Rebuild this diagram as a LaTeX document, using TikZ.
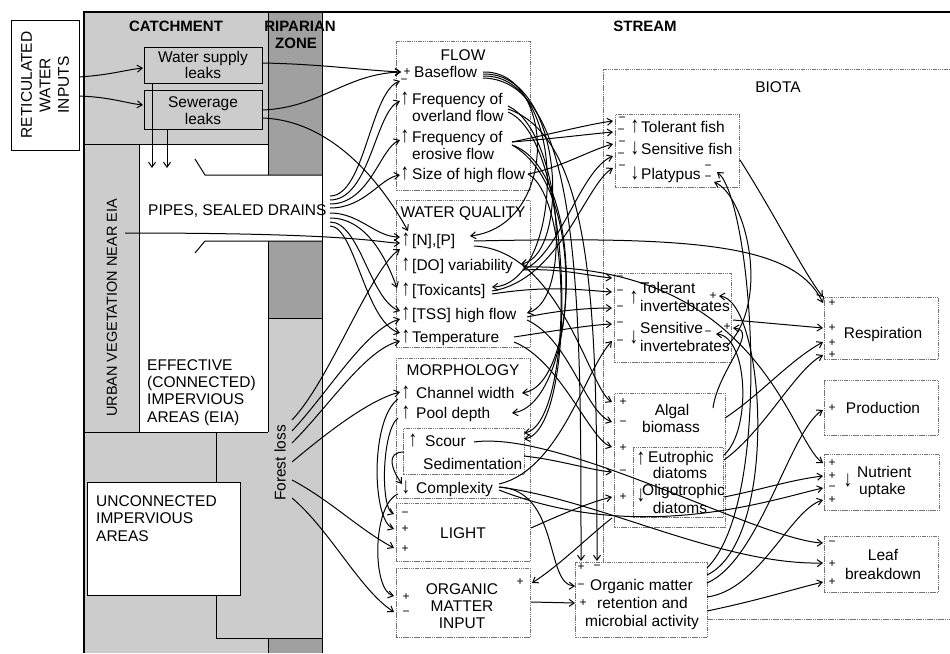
\documentclass[tikz,border=0pt]{standalone}
\usepackage{fontspec}
\setmainfont{Liberation Sans}
\usetikzlibrary{arrows.meta}
\definecolor{gc}{RGB}{204,204,204}
\definecolor{gd}{RGB}{160,160,160}
\newcommand{\UA}{\scalebox{1.1}[1.45]{↑}}
\newcommand{\DA}{\scalebox{1.1}[1.45]{↓}}
\begin{document}
\begin{tikzpicture}[x=1pt,y=-1pt, font=\fontsize{15.5}{17.5}\selectfont,
 arr/.style={-{Straight Barb[length=5pt,width=7pt]}, line width=1pt},
 ln/.style={line width=1pt},
 dbox/.style={draw=black!55, line width=0.9pt, dash pattern=on 1.5pt off 0.7pt, anchor=north west, inner sep=0pt},
 sbox/.style={draw=black, line width=1.1pt, anchor=north west, inner sep=0pt},
 lbl/.style={inner sep=0pt, anchor=base west},
 lblc/.style={inner sep=0pt, anchor=base},
 bld/.style={inner sep=0pt, anchor=base, font=\fontsize{15}{17}\selectfont\bfseries},
 sign/.style={inner sep=0pt, font=\fontsize{12}{12}\selectfont},
 ]
\useasboundingbox (0,0) rectangle (950,653);
% ---------- backgrounds
\fill[gc] (84,12) rectangle (268,144);
\fill[gc] (84,144) rectangle (139,432);
\fill[gc] (84,432) rectangle (216,653);
\fill[gc] (216,432) rectangle (322,638);
\fill[gc] (268,318) rectangle (322,432);
\fill[gc] (216,638) rectangle (268,653);
\fill[gd] (268,12) rectangle (322,175);
\fill[gd] (268,241) rectangle (322,318);
\fill[gd] (268,638) rectangle (322,653);
\draw[line width=1.2pt] (84,653) -- (84,12) -- (950,12);
\draw[ln] (84,144) -- (268,144);
\draw[ln] (268,12) -- (268,175);
\draw[ln] (322,12) -- (322,653);
\draw[ln] (195,159) -- (205,175) -- (322,175);
\draw[ln] (195,253) -- (205,241) -- (322,241);
\draw[ln] (268,241) -- (268,432);
\draw[ln] (268,318) -- (322,318);
\draw[ln] (139,144) -- (139,432);
\draw[ln] (84,432) -- (268,432);
\draw[ln] (216,432) -- (216,482);
\draw[ln] (216,595) -- (216,638) -- (322,638);
\draw[ln] (268,638) -- (268,653);
% ---------- left boxes
\node[sbox, fill=white, minimum width=68pt, minimum height=130pt] (retbox) at (11,20) {};
\node[sbox, fill=gc, minimum width=118pt, minimum height=36pt] (wslbox) at (144,47) {};
\node[sbox, fill=gc, minimum width=118pt, minimum height=39pt] (sewbox) at (144,90) {};
\node[sbox, fill=white, minimum width=153pt, minimum height=113pt] (uiabox) at (87,482) {};
% ---------- stream boxes
\draw[draw=black!55, line width=0.9pt, dash pattern=on 1.5pt off 0.7pt] (950,69) -- (603,69) -- (603,562);
\draw[draw=black!55, line width=0.9pt, dash pattern=on 1.5pt off 0.7pt] (707,619) -- (950,619);
\node[dbox, minimum width=134pt, minimum height=149pt] (flowbox) at (396,41) {};
\node[dbox, minimum width=134pt, minimum height=147pt] (wqbox) at (396,200) {};
\node[dbox, minimum width=134pt, minimum height=140pt] (morbox) at (396,358) {};
\node[dbox, minimum width=121pt, minimum height=46pt] (scbox) at (403,428) {};
\node[dbox, minimum width=134pt, minimum height=58pt] (lightbox) at (396,503) {};
\node[dbox, minimum width=134pt, minimum height=69pt] (omibox) at (396,568) {};
\node[dbox, fill=white, minimum width=132pt, minimum height=75pt] (omrbox) at (575,562) {};
\node[dbox, minimum width=124pt, minimum height=73pt] (fishbox) at (615,114) {};
\node[dbox, minimum width=117pt, minimum height=89pt] (invbox) at (614,273) {};
\node[dbox, minimum width=111pt, minimum height=134pt] (algbox) at (614,393) {};
\node[dbox, minimum width=90pt, minimum height=70pt] (diabox) at (633,447) {};
\node[dbox, minimum width=114pt, minimum height=62pt] (respbox) at (824,297) {};
\node[dbox, minimum width=114pt, minimum height=55pt] (prodbox) at (824,380) {};
\node[dbox, minimum width=115pt, minimum height=56pt] (nutbox) at (824,454) {};
\node[dbox, minimum width=114pt, minimum height=56pt] (leafbox) at (824,536) {};
% ---------- ports
\coordinate (retA) at (79,77); \coordinate (retB) at (79,96);
\coordinate (wslIn) at (143,68); \coordinate (sewIn) at (143,105);
\coordinate (wslOut) at (262,63); \coordinate (sewOut1) at (262,110); \coordinate (sewOut2) at (262,118);
\coordinate (wslBot) at (152,83); \coordinate (wslDn) at (152,168);
\coordinate (sewBot) at (167,129); \coordinate (sewDn) at (167,168);
\coordinate (p1) at (330,196); \coordinate (p2) at (330,200); \coordinate (p3) at (330,204);
\coordinate (p4) at (330,208); \coordinate (p5) at (330,213); \coordinate (p6) at (330,218);
\coordinate (p7) at (330,222); \coordinate (p8) at (330,226);
\coordinate (uvS) at (125,233);
\coordinate (fl1) at (292,420); \coordinate (fl2) at (292,431); \coordinate (fl3) at (292,443);
\coordinate (fl4) at (292,462); \coordinate (fl5) at (292,480); \coordinate (fl6) at (292,498);
\coordinate (bfIn1) at (401,72); \coordinate (bfIn2) at (400,81);
\coordinate (ovIn) at (400,101); \coordinate (erIn) at (400,140); \coordinate (szIn) at (400,175);
\coordinate (npIn1) at (408,231); \coordinate (npIn2) at (400,237); \coordinate (npIn3) at (400,243); \coordinate (npIn4) at (400,249);
\coordinate (toxIn) at (397,288); \coordinate (tssIn1) at (400,311); \coordinate (tssIn2) at (400,319);
\coordinate (tempIn1) at (400,333); \coordinate (tempIn2) at (400,341);
\coordinate (cwIn) at (400,392); \coordinate (scL) at (404,452); \coordinate (cxIn) at (402,484);
\coordinate (cwL) at (398,399); \coordinate (pdL) at (398,418); \coordinate (cxL) at (398,494);
\coordinate (lIn1) at (394,514); \coordinate (lIn2) at (394,529); \coordinate (lIn3) at (394,548);
\coordinate (omIn1) at (394,596); \coordinate (omIn2) at (394,612);
\coordinate (bfO1) at (483,72); \coordinate (bfO2) at (483,74); \coordinate (bfO3) at (483,76); \coordinate (bfO4) at (483,78);
\coordinate (ovO1) at (508,106); \coordinate (ovO2) at (508,109); \coordinate (ovO3) at (508,112);
\coordinate (erO1) at (512,142); \coordinate (erO2) at (512,145);
\coordinate (szO) at (528,174);
\coordinate (npR) at (470,236); \coordinate (npOut) at (474,241); \coordinate (npOut2) at (474,246);
\coordinate (doR) at (521,264); \coordinate (doOut) at (523,267); \coordinate (doOut2) at (523,270);
\coordinate (toxR) at (492,287); \coordinate (toxR2) at (492,291); \coordinate (toxR3) at (492,294);
\coordinate (tssR) at (527,313); \coordinate (tssR2) at (527,317); \coordinate (tssR3) at (527,320);
\coordinate (tempR) at (514,337); \coordinate (tempR2) at (514,342);
\coordinate (cwR) at (522,393); \coordinate (pdR) at (512,413);
\coordinate (scR1) at (524,433); \coordinate (scR2) at (524,439); \coordinate (scOut) at (474,442);
\coordinate (sedR) at (524,456);
\coordinate (cxR) at (499,487); \coordinate (cxR2) at (499,490); \coordinate (cxR3) at (499,484);
\coordinate (lR) at (531,528); \coordinate (omR) at (532,583); \coordinate (omOut) at (531,602);
\coordinate (omrT1) at (581,561); \coordinate (omrT2) at (597,561);
\coordinate (omrL1) at (575,586); \coordinate (omrL2) at (575,603);
\coordinate (omrR1) at (707,568); \coordinate (omrR5) at (707,575); \coordinate (omrR2) at (707,583);
\coordinate (omrR3) at (707,597); \coordinate (omrR4) at (707,611);
\coordinate (ftA) at (613,121); \coordinate (ftB) at (613,132); \coordinate (fsA) at (613,144);
\coordinate (fsB) at (613,156); \coordinate (fpA) at (613,168);
\coordinate (platA) at (717,172); \coordinate (platB) at (714,182); \coordinate (fsR) at (740,160);
\coordinate (iA) at (612,278); \coordinate (iB) at (612,292); \coordinate (iC) at (612,308);
\coordinate (iD) at (612,324); \coordinate (iE) at (612,341);
\coordinate (tiP) at (719,296); \coordinate (siP) at (733,328); \coordinate (siM) at (716,334);
\coordinate (siR) at (733,320); \coordinate (siOut2) at (727,346);
\coordinate (aA) at (612,402); \coordinate (aB) at (612,422); \coordinate (aC) at (612,447);
\coordinate (aD) at (612,472); \coordinate (aE) at (612,497); \coordinate (algBL) at (612,518);
\coordinate (aR) at (713,408); \coordinate (aR2) at (725,418);
\coordinate (eR) at (724,460); \coordinate (eR2) at (724,455); \coordinate (oR) at (724,497);
\coordinate (rA1) at (823,297); \coordinate (rA2) at (823,303); \coordinate (rB) at (823,328);
\coordinate (rC) at (823,342); \coordinate (rD) at (823,355);
\coordinate (pA) at (823,410);
\coordinate (nA) at (823,463); \coordinate (nB) at (823,476); \coordinate (nC) at (823,488); \coordinate (nD) at (823,500);
\coordinate (lfA) at (823,543); \coordinate (lfB) at (823,563); \coordinate (lfC) at (823,582);
% ---------- connectors: left
\draw[arr] (retA) .. controls (110,75) and (125,70) .. (wslIn);
\draw[arr] (retB) .. controls (110,97) and (125,103) .. (sewIn);
\draw[arr] (wslOut) .. controls (320,64) and (360,70) .. (bfIn1);
\draw[arr] (sewOut1) .. controls (320,108) and (345,74) .. (bfIn1);
\draw[arr] (sewOut2) .. controls (330,120) and (380,180) .. (npIn1);
\draw[arr] (wslBot) -- (wslDn);
\draw[arr] (sewBot) -- (sewDn);
\draw[arr] (p1) .. controls (365,196) and (370,92) .. (bfIn2);
\draw[arr] (p2) .. controls (370,200) and (375,112) .. (ovIn);
\draw[arr] (p3) .. controls (370,204) and (380,148) .. (erIn);
\draw[arr] (p4) .. controls (365,208) and (380,178) .. (szIn);
\draw[arr] (p5) .. controls (360,213) and (375,237) .. (npIn2);
\draw[arr] (uvS) .. controls (360,233) and (380,243) .. (npIn3);
\draw[arr] (p6) .. controls (365,218) and (385,255) .. (toxIn);
\draw[arr] (p7) .. controls (360,222) and (370,300) .. (tssIn1);
\draw[arr] (p8) .. controls (355,226) and (365,322) .. (tempIn1);
\draw[arr] (fl1) .. controls (330,380) and (370,270) .. (npIn4);
\draw[arr] (fl2) .. controls (330,390) and (365,330) .. (tssIn2);
\draw[arr] (fl3) .. controls (330,405) and (365,350) .. (tempIn2);
\draw[arr] (fl4) .. controls (330,430) and (370,400) .. (cwIn);
\draw[arr] (fl5) .. controls (330,500) and (360,530) .. (lIn3);
\draw[arr] (fl6) .. controls (330,530) and (360,590) .. (omIn2);
\draw[arr] (scL) .. controls (385,452) and (392,470) .. (cxIn);
\draw[arr] (cwL) .. controls (370,420) and (372,520) .. (lIn2);
\draw[arr] (pdL) .. controls (382,430) and (380,508) .. (lIn1);
\draw[arr] (cxL) .. controls (372,505) and (372,590) .. (omIn1);
% ---------- connectors: flow and water quality outputs
\draw[arr] (bfO1) .. controls (555,70) and (560,225) .. (npR);
\draw[arr] (bfO2) .. controls (565,72) and (570,255) .. (doR);
\draw[arr] (bfO3) .. controls (572,74) and (562,285) .. (toxR);
\draw[arr] (bfO4) .. controls (581,80) and (581,300) .. (omrT1);
\draw[arr] (ovO1) .. controls (560,130) and (575,300) .. (tssR);
\draw[arr] (ovO2) .. controls (597,140) and (597,330) .. (omrT2);
\draw[arr] (ovO3) .. controls (575,140) and (578,430) .. (scR2);
\draw[arr] (erO1) .. controls (560,132) and (590,124) .. (ftA);
\draw[arr] (erO1) .. controls (560,138) and (590,134) .. (ftB);
\draw[arr] (szO) .. controls (560,168) and (590,150) .. (fsA);
\draw[arr] (erO2) .. controls (585,170) and (580,385) .. (cwR);
\draw[arr] (erO2) .. controls (592,190) and (575,405) .. (pdR);
\draw[arr] (szO) .. controls (575,200) and (570,425) .. (scR1);
\draw[arr] (doOut2) .. controls (560,255) and (580,170) .. (fsB);
\draw[arr] (toxR2) .. controls (560,280) and (585,185) .. (fpA);
\draw[arr] (doOut2) .. controls (560,268) and (590,276) .. (iA);
\draw[arr] (toxR3) .. controls (550,285) and (580,290) .. (iB);
\draw[arr] (tssR2) .. controls (560,310) and (590,308) .. (iC);
\draw[arr] (tempR) .. controls (560,330) and (590,325) .. (iD);
\draw[arr] (cxR3) .. controls (560,470) and (585,370) .. (iE);
\draw[arr] (npOut2) .. controls (560,250) and (590,390) .. (aA);
\draw[arr] (tssR3) .. controls (570,340) and (585,412) .. (aB);
\draw[arr] (tempR2) .. controls (560,360) and (590,440) .. (aC);
\draw[arr] (sedR) .. controls (560,460) and (590,470) .. (aD);
\draw[arr] (lR) .. controls (560,515) and (590,502) .. (aE);
\draw[arr] (algBL) .. controls (590,535) and (560,565) .. (omR);
\draw[arr] (cxR) .. controls (560,490) and (545,585) .. (omrL1);
\draw[arr] (omOut) -- (omrL2);
% ---------- connectors: long and biota
\draw[arr] (npOut) .. controls (700,236) and (795,245) .. (rA2);
\draw[arr] (fsR) .. controls (775,215) and (805,275) .. (rA1);
\draw[arr] (siR) -- (rB);
\draw[arr] (aR2) .. controls (760,395) and (790,360) .. (rC);
\draw[arr] (eR) .. controls (765,430) and (795,370) .. (rD);
\draw[arr] (omrR2) .. controls (760,560) and (790,430) .. (pA);
\draw[arr] (doOut) .. controls (760,262) and (790,440) .. (nA);
\draw[arr] (oR) .. controls (760,490) and (790,480) .. (nB);
\draw[arr] (cxR2) .. controls (640,545) and (770,500) .. (nC);
\draw[arr] (omrR3) .. controls (760,590) and (790,510) .. (nD);
\draw[arr] (scOut) .. controls (560,430) and (760,540) .. (lfA);
\draw[arr] (cxR) .. controls (600,500) and (720,565) .. (lfB);
\draw[arr] (omrR4) .. controls (760,600) and (790,590) .. (lfC);
\draw[arr] (aR) .. controls (718,370) and (760,330) .. (siP);
\draw[arr] (omrR1) .. controls (775,500) and (752,200) .. (platA);
\draw[arr] (omrR5) .. controls (780,540) and (765,300) .. (tiP);
\draw[arr] (siOut2) .. controls (772,300) and (745,195) .. (platB);
\draw[arr] (eR2) .. controls (752,430) and (748,336) .. (siM);
% ---------- left texts
\node[rotate=90, align=center, inner sep=0pt, font=\fontsize{15.5}{18.5}\selectfont] (ret) at (45,85) {RETICULATED\\WATER\\INPUTS};
\node[bld] (catch) at (176,31) {CATCHMENT};
\node[bld] (rip1) at (300,31) {RIPARIAN};
\node[bld] (rip2) at (296,48) {ZONE};
\node[bld] (stream) at (645,31) {STREAM};
\node[lblc] (wsl1) at (203,62) {Water supply};
\node[lblc] (wsl2) at (203,78) {leaks};
\node[lblc] (sew1) at (203,107) {Sewerage};
\node[lblc] (sew2) at (203,124) {leaks};
\node[rotate=90, inner sep=0pt, font=\fontsize{14.5}{16}\selectfont] (uv) at (112,308) {URBAN VEGETATION NEAR EIA};
\node[rotate=90, inner sep=0pt] (forest) at (280,463) {Forest loss};
\node[lbl] (pipes) at (148,215) {PIPES, SEALED DRAINS};
\node[lbl] (eia1) at (147,370) {EFFECTIVE};
\node[lbl] (eia2) at (147,387) {(CONNECTED)};
\node[lbl] (eia3) at (147,404) {IMPERVIOUS};
\node[lbl] (eia4) at (147,422) {AREAS (EIA)};
\node[lbl] (uia1) at (96,506) {UNCONNECTED};
\node[lbl] (uia2) at (96,523) {IMPERVIOUS};
\node[lbl] (uia3) at (96,541) {AREAS};
% ---------- stream texts
\node[lblc] (flowt) at (463,60) {FLOW};
\node[lbl] (bf) at (414,77.5) {Baseflow};
\node[lblc] (ua1) at (405,104.5) {\UA};
\node[lbl] (ov1) at (412,104.5) {Frequency of};
\node[lbl] (ov2) at (412,121.5) {overland flow};
\node[lblc] (ua2) at (405,142.5) {\UA};
\node[lbl] (er1) at (412,142.5) {Frequency of};
\node[lbl] (er2) at (412,159.5) {erosive flow};
\node[lblc] (ua3) at (405,179.5) {\UA};
\node[lbl] (sz) at (412,179.5) {Size of high flow};
\node[lblc] (wqt) at (463,217) {WATER QUALITY};
\node[lblc] (ua4) at (406,245) {\UA};
\node[lbl] (np) at (412,245) {[N],[P]};
\node[lblc] (ua5) at (406,270) {\UA};
\node[lbl] (do) at (412,270) {[DO] variability};
\node[lblc] (ua6) at (406,295) {\UA};
\node[lbl] (tox) at (412,295) {[Toxicants]};
\node[lblc] (ua7) at (406,319) {\UA};
\node[lbl] (tss) at (412,319) {[TSS] high flow};
\node[lblc] (ua8) at (406,342) {\UA};
\node[lbl] (temp) at (412,342) {Temperature};
\node[lblc] (mort) at (463,375) {MORPHOLOGY};
\node[lblc] (ua9) at (406,398) {\UA};
\node[lbl] (cw) at (416,398) {Channel width};
\node[lblc] (ua10) at (406,418) {\UA};
\node[lbl] (pd) at (416,418) {Pool depth};
\node[lblc] (ua11) at (413,446) {\UA};
\node[lbl] (scour) at (425,446) {Scour};
\node[lbl] (sed) at (423,469) {Sedimentation};
\node[lblc] (da1) at (406,493) {\DA};
\node[lbl] (cx) at (416,493) {Complexity};
\node[lblc] (light) at (463,538) {LIGHT};
\node[lblc] (omi1) at (462,594) {ORGANIC};
\node[lblc] (omi2) at (462,611) {MATTER};
\node[lblc] (omi3) at (462,628) {INPUT};
\node[lbl] (omr1) at (590,590) {Organic matter};
\node[lbl] (omr2) at (597,608) {retention and};
\node[lbl] (omr3) at (585,626) {microbial activity};
\node[lblc] (biot) at (778,92) {BIOTA};
\node[lblc] (ua12) at (635,132) {\UA};
\node[lbl] (tf) at (641,132) {Tolerant fish};
\node[lblc] (da2) at (635,154) {\DA};
\node[lbl] (sf) at (641,154) {Sensitive fish};
\node[lblc] (da3) at (635,179) {\DA};
\node[lbl] (plat) at (641,179) {Platypus};
\node[lblc] (ua13) at (634,303) {\UA};
\node[lbl] (ti1) at (640,293) {Tolerant};
\node[lbl] (ti2) at (640,311) {invertebrates};
\node[lblc] (da4) at (634,343) {\DA};
\node[lbl] (si1) at (640,333) {Sensitive};
\node[lbl] (si2) at (640,351) {invertebrates};
\node[lblc] (alg1) at (672,415) {Algal};
\node[lblc] (alg2) at (671,432) {biomass};
\node[lblc] (ua14) at (641,464) {\UA};
\node[lbl] (eu1) at (648,462) {Eutrophic};
\node[lblc] (eu2) at (680,478) {diatoms};
\node[lblc] (da5) at (641,501) {\DA};
\node[lbl] (ol1) at (642,495) {Oligotrophic};
\node[lblc] (ol2) at (680,513) {diatoms};
\node[lblc] (resp) at (883,338) {Respiration};
\node[lblc] (prod) at (883,413) {Production};
\node[lblc] (da6) at (848,486) {\DA};
\node[lbl] (nut1) at (857,477) {Nutrient};
\node[lbl] (nut2) at (859,494) {uptake};
\node[lblc] (leaf1) at (883,560) {Leaf};
\node[lblc] (leaf2) at (883,579) {breakdown};
% ---------- signs
\foreach \x/\y/\s [count=\i] in {407/72/+, 404/81/−,
  622/119/−, 621/131/−, 622/143/−, 621/155/−, 622/167/−, 708/167/−, 708/178/−,
  620/278/−, 620/292/−, 620/308/−, 620/324/−, 620/342/−, 713/296/+, 727/327/+, 708/333/−,
  623/402/+, 623/423/−, 623/448/+, 623/472/−, 623/497/+,
  832/303/+, 832/328/+, 832/343/+, 832/355/+, 832/408/+,
  832/463/+, 832/476/+, 832/488/−, 832/500/+,
  832/543/−, 832/564/+, 832/582/+,
  581/567/+, 597/567/−, 581/586/−, 583/603/+,
  406/597/+, 406/613/−, 520/582/+,
  405/514/−, 405/529/+, 405/549/+}
  \node[sign] (sg\i) at (\x,\y) {\s};
\end{tikzpicture}
\end{document}
